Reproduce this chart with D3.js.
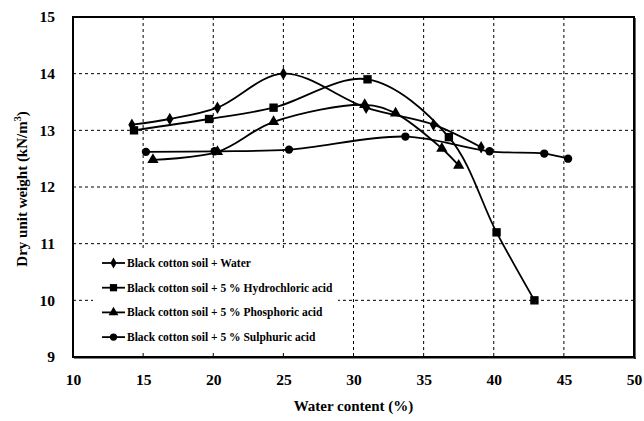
<!DOCTYPE html>
<html>
<head>
<meta charset="utf-8">
<script src="https://cdn.jsdelivr.net/npm/d3@7"></script>
<style>
  html, body { margin: 0; padding: 0; background: #fff; }
  svg { display: block; }
  text { font-family: "Liberation Serif", "Times New Roman", serif; font-weight: bold; fill: #000; }
</style>
</head>
<body>
<script>
// Compaction results: water content (%) vs dry unit weight (kN/m3)
const seriesNames = [
  "Black cotton soil + Water",
  "Black cotton soil + 5 % Hydrochloric acid",
  "Black cotton soil + 5 % Phosphoric acid",
  "Black cotton soil + 5 % Sulphuric acid"
];
const waterX = [14.2, 16.9, 20.3, 25.0, 30.9, 35.7, 39.1];
const waterY = [13.1, 13.2, 13.4, 14.0, 13.4, 13.1, 12.7];
const hclX = [14.35, 19.7, 24.3, 31.0, 36.8, 40.2, 42.9];
const hclY = [13.0, 13.2, 13.4, 13.9, 12.88, 11.2, 10.0];
const phosX = [15.7, 20.3, 24.3, 30.8, 33.0, 36.3, 37.5];
const phosY = [12.48, 12.62, 13.15, 13.45, 13.3, 12.68, 12.38];
const sulphX = [15.2, 20.1, 25.4, 33.7, 39.7, 43.6, 45.3];
const sulphY = [12.62, 12.63, 12.66, 12.89, 12.63, 12.59, 12.5];
const xTicks = [10, 15, 20, 25, 30, 35, 40, 45, 50];
const yTicks = [9, 10, 11, 12, 13, 14, 15];

const W = 644, H = 421;
const L = 73, R = 634, T = 17, B = 357;

const svg = d3.select("body").append("svg").attr("width", W).attr("height", H);

const x = d3.scaleLinear().domain([10, 50]).range([L, R]);
const y = d3.scaleLinear().domain([9, 15]).range([B, T]);

// dashed grid
const grid = svg.append("g");
grid.selectAll("line.v").data(xTicks.slice(1, -1)).join("line")
  .attr("x1", d => x(d)).attr("x2", d => x(d)).attr("y1", T).attr("y2", B)
  .attr("stroke", "#000").attr("stroke-width", 1).attr("stroke-dasharray", "3,3");
grid.selectAll("line.h").data(yTicks.slice(1, -1)).join("line")
  .attr("x1", L).attr("x2", R).attr("y1", d => y(d)).attr("y2", d => y(d))
  .attr("stroke", "#000").attr("stroke-width", 1).attr("stroke-dasharray", "3,3");

// axes (labels only, frame drawn separately)
const xAxis = svg.append("g").attr("transform", `translate(0,${B})`)
  .call(d3.axisBottom(x).tickValues(xTicks).tickFormat(d3.format("d")).tickSize(0).tickPadding(17));
xAxis.select(".domain").remove();
xAxis.selectAll("text").style("font-size", "15.5px").style("font-family", "Liberation Serif").style("font-weight", "bold");

const yAxis = svg.append("g").attr("transform", `translate(${L},0)`)
  .call(d3.axisLeft(y).tickValues(yTicks).tickFormat(d3.format("d")).tickSize(0).tickPadding(18));
yAxis.select(".domain").remove();
yAxis.selectAll("text").style("font-size", "15.5px").style("font-family", "Liberation Serif").style("font-weight", "bold");

// series
const series = [
  { name: seriesNames[0], xs: waterX, ys: waterY, sym: d3.symbolDiamond, size: 45 },
  { name: seriesNames[1], xs: hclX, ys: hclY, sym: d3.symbolSquare, size: 70 },
  { name: seriesNames[2], xs: phosX, ys: phosY, sym: d3.symbolTriangle, size: 55 },
  { name: seriesNames[3], xs: sulphX, ys: sulphY, sym: d3.symbolCircle, size: 55 }
];

const line = d3.line().x(d => x(d[0])).y(d => y(d[1])).curve(d3.curveCatmullRom.alpha(0.5));

const plot = svg.append("g");
series.forEach(s => {
  const pts = s.xs.map((v, i) => [v, s.ys[i]]);
  plot.append("path").datum(pts).attr("d", line)
    .attr("fill", "none").attr("stroke", "#000").attr("stroke-width", 1.8);
  plot.selectAll(null).data(pts).join("path")
    .attr("transform", d => `translate(${x(d[0])},${y(d[1])})`)
    .attr("d", d3.symbol().type(s.sym).size(s.size))
    .attr("fill", "#000");
});

// legend
const lg = svg.append("g");
lg.append("rect").attr("x", 93).attr("y", 249).attr("width", 245).attr("height", 102).attr("fill", "#fff");
series.forEach((s, i) => {
  const ly = 263 + i * 24.7;
  lg.append("line").attr("x1", 102).attr("x2", 125).attr("y1", ly).attr("y2", ly)
    .attr("stroke", "#000").attr("stroke-width", 1.8);
  lg.append("path").attr("transform", `translate(113.5,${ly})`)
    .attr("d", d3.symbol().type(s.sym).size(s.size * 0.75)).attr("fill", "#000");
  lg.append("text").attr("x", 127).attr("y", ly + 3.8)
    .style("font-size", "11.5px").text(s.name);
});

// frame
svg.append("rect").attr("x", L).attr("y", T).attr("width", R - L).attr("height", B - T)
  .attr("fill", "none").attr("stroke", "#000").attr("stroke-width", 2);
svg.append("line").attr("x1", R + 1).attr("x2", R + 1).attr("y1", T + 1).attr("y2", B + 2)
  .attr("stroke", "#000").attr("stroke-width", 1.2);
svg.append("line").attr("x1", L + 1).attr("x2", R + 2).attr("y1", B + 1).attr("y2", B + 1)
  .attr("stroke", "#000").attr("stroke-width", 1.2);

// axis titles
svg.append("text").attr("x", (L + R) / 2).attr("y", 411).attr("text-anchor", "middle")
  .style("font-size", "15px").text("Water content (%)");

const yt = svg.append("text").attr("transform", `translate(27,${(T + B) / 2 + 2}) rotate(-90)`)
  .attr("text-anchor", "middle").style("font-size", "15px");
yt.append("tspan").text("Dry unit weight (kN/m");
yt.append("tspan").attr("dy", -6).style("font-size", "10px").text("3");
yt.append("tspan").attr("dy", 6).text(")");
</script>
</body>
</html>
